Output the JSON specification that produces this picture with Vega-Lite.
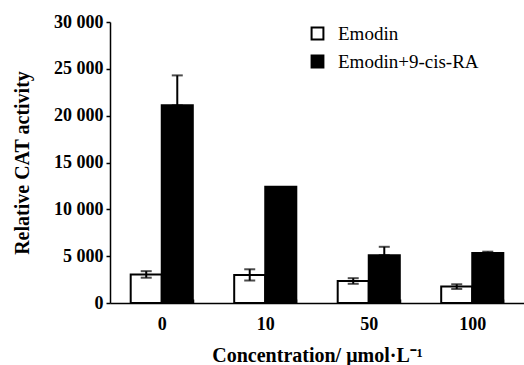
{
  "$schema": "https://vega.github.io/schema/vega-lite/v6.json",
  "autosize": "none",
  "width": 414,
  "height": 281,
  "padding": {"left": 110, "top": 22, "right": 0, "bottom": 62},
  "background": "white",
  "config": {
    "font": "Liberation Serif",
    "view": {"stroke": null},
    "axis": {"domainColor": "black", "domainWidth": 1.5, "tickColor": "black", "tickWidth": 1.5, "labelColor": "black", "titleColor": "black", "grid": false}
  },
  "datasets": {
    "bars": [
      {"conc": "0", "group": "Emodin", "value": 3050},
      {"conc": "0", "group": "Emodin+9-cis-RA", "value": 21100},
      {"conc": "10", "group": "Emodin", "value": 3000},
      {"conc": "10", "group": "Emodin+9-cis-RA", "value": 12400},
      {"conc": "50", "group": "Emodin", "value": 2350},
      {"conc": "50", "group": "Emodin+9-cis-RA", "value": 5100},
      {"conc": "100", "group": "Emodin", "value": 1750},
      {"conc": "100", "group": "Emodin+9-cis-RA", "value": 5350}
    ],
    "errs": [
      {"conc": "0", "group": "Emodin", "lo": 2700, "hi": 3400},
      {"conc": "0", "group": "Emodin+9-cis-RA", "lo": 21100, "hi": 24300},
      {"conc": "10", "group": "Emodin", "lo": 2400, "hi": 3600},
      {"conc": "50", "group": "Emodin", "lo": 2050, "hi": 2650},
      {"conc": "50", "group": "Emodin+9-cis-RA", "lo": 5100, "hi": 6000},
      {"conc": "100", "group": "Emodin", "lo": 1500, "hi": 2000},
      {"conc": "100", "group": "Emodin+9-cis-RA", "lo": 5350, "hi": 5480}
    ]
  },
  "encoding": {
    "x": {
      "field": "conc", "type": "nominal", "sort": ["0", "10", "50", "100"],
      "scale": {"paddingInner": 0.4, "paddingOuter": 0.2},
      "axis": {
        "title": "Concentration/ μmol·L⁻¹", "titleFontSize": 20, "titleFontWeight": "bold", "titlePadding": 12,
        "labelAngle": 0, "labelFontSize": 18, "labelFontWeight": "bold", "labelPadding": 16,
        "tickBand": "extent", "tickSize": -4
      }
    },
    "xOffset": {"field": "group", "type": "nominal", "sort": ["Emodin", "Emodin+9-cis-RA"], "scale": {"paddingInner": 0, "paddingOuter": 0}}
  },
  "layer": [
    {
      "data": {"name": "bars"},
      "mark": {"type": "bar", "stroke": "black", "strokeWidth": 2},
      "encoding": {
        "y": {
          "field": "value", "type": "quantitative",
          "scale": {"domain": [0, 30000], "nice": false},
          "axis": {
            "title": "Relative CAT activity", "titleFontSize": 20, "titleFontWeight": "bold", "titlePadding": 21,
            "values": [0, 5000, 10000, 15000, 20000, 25000, 30000],
            "labelExpr": "replace(format(datum.value, ','), ',', ' ')",
            "labelFontSize": 18, "labelFontWeight": "bold", "tickSize": 4, "labelPadding": 3
          }
        },
        "fill": {
          "field": "group", "type": "nominal",
          "scale": {"domain": ["Emodin", "Emodin+9-cis-RA"], "range": ["white", "black"]},
          "legend": {
            "title": null, "orient": "none", "legendX": 198, "legendY": 2,
            "symbolType": "square", "symbolSize": 140, "symbolStrokeColor": "black", "symbolStrokeWidth": 2,
            "labelFontSize": 19, "labelColor": "black", "rowPadding": 7, "labelOffset": 11
          }
        }
      }
    },
    {
      "data": {"name": "errs"},
      "mark": {"type": "rule", "color": "black", "strokeWidth": 2},
      "encoding": {
        "y": {"field": "lo", "type": "quantitative"},
        "y2": {"field": "hi"}
      }
    },
    {
      "data": {"name": "errs"},
      "mark": {"type": "tick", "color": "black", "thickness": 2, "size": 11, "orient": "horizontal"},
      "encoding": {"y": {"field": "lo", "type": "quantitative"}}
    },
    {
      "data": {"name": "errs"},
      "mark": {"type": "tick", "color": "black", "thickness": 2, "size": 11, "orient": "horizontal"},
      "encoding": {"y": {"field": "hi", "type": "quantitative"}}
    }
  ]
}
